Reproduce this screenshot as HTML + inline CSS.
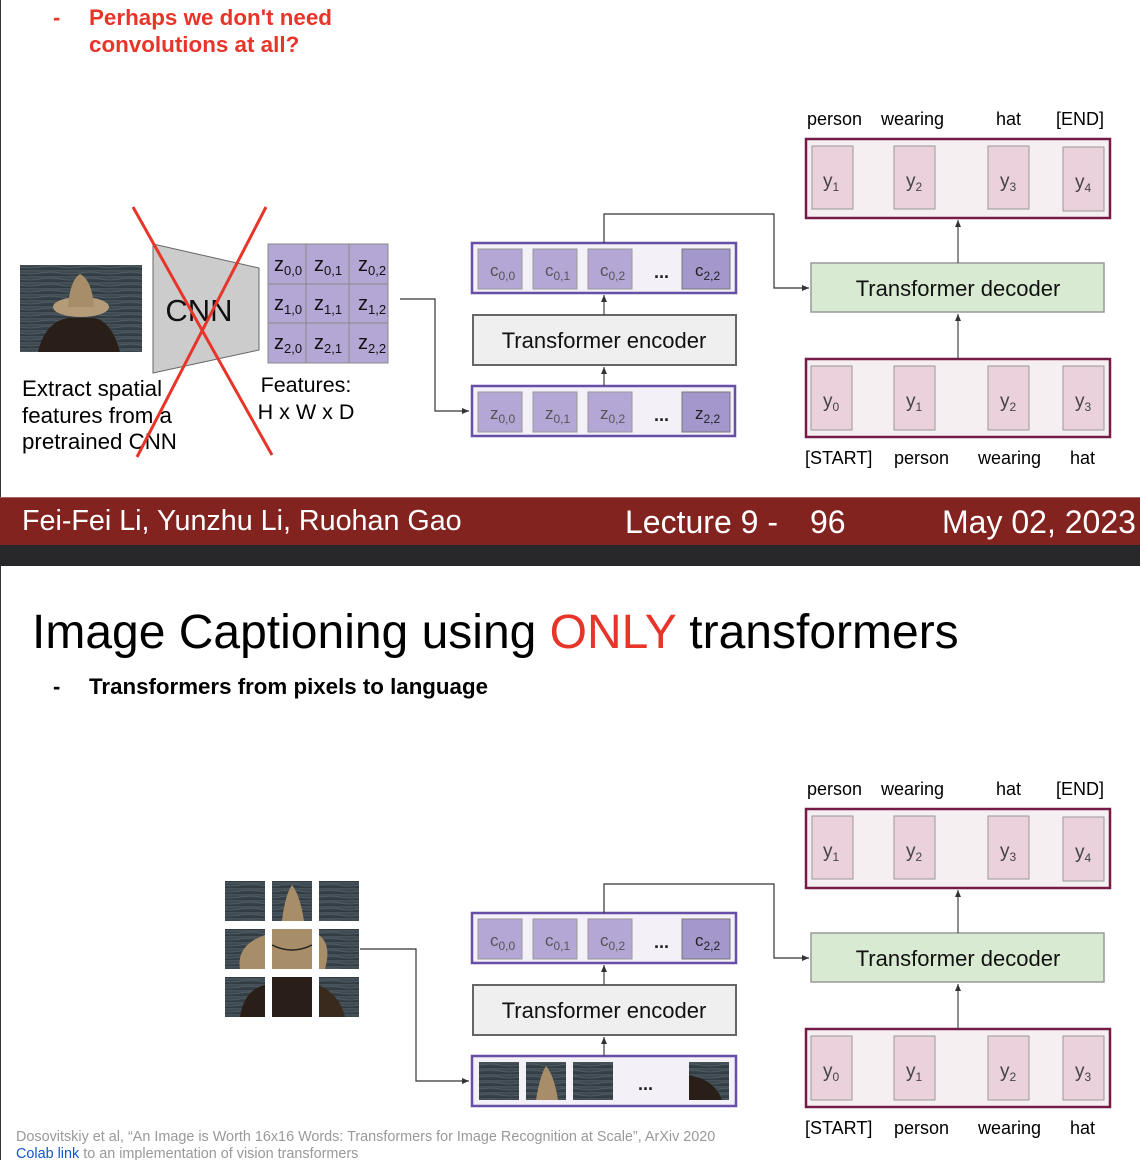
<!DOCTYPE html>
<html><head><meta charset="utf-8"><style>
html,body{margin:0;padding:0;background:#fff}
svg{display:block}
text{font-family:"Liberation Sans",sans-serif}
</style></head><body>
<svg width="1140" height="1160" viewBox="0 0 1140 1160" xmlns="http://www.w3.org/2000/svg">
<defs>
<marker id="ar" markerWidth="8" markerHeight="8" refX="7" refY="4" orient="auto" markerUnits="userSpaceOnUse"><path d="M0,1 L7,4 L0,7 z" fill="#333"/></marker>
<linearGradient id="water" x1="0" y1="0" x2="0" y2="1"><stop offset="0" stop-color="#4a555c"/><stop offset="0.5" stop-color="#39444b"/><stop offset="1" stop-color="#2f3940"/></linearGradient>
<pattern id="waves" width="40" height="6" patternUnits="userSpaceOnUse"><rect width="40" height="6" fill="url(#water)"/><path d="M0,3 Q10,1 20,3 T40,3" stroke="#56626a" stroke-width="0.8" fill="none"/></pattern>
<g id="right">
  <text x="807" y="125" font-size="18">person</text>
  <text x="881" y="125" font-size="18">wearing</text>
  <text x="996" y="125" font-size="18">hat</text>
  <text x="1056" y="125" font-size="18">[END]</text>
  <rect x="806" y="139" width="304" height="79" fill="#f6eff2" stroke="#741b47" stroke-width="2.5"/>
  <rect x="812" y="146" width="41" height="63" fill="#ead1dc" stroke="#999"/>
  <rect x="894" y="146" width="41" height="63" fill="#ead1dc" stroke="#999"/>
  <rect x="988" y="146" width="41" height="63" fill="#ead1dc" stroke="#999"/>
  <rect x="1063" y="147" width="41" height="64" fill="#ead1dc" stroke="#999"/>
  <text x="823" y="187" font-size="19" fill="#444">y<tspan font-size="12" dy="4">1</tspan></text>
  <text x="906" y="187" font-size="19" fill="#444">y<tspan font-size="12" dy="4">2</tspan></text>
  <text x="1000" y="187" font-size="19" fill="#444">y<tspan font-size="12" dy="4">3</tspan></text>
  <text x="1075" y="188" font-size="19" fill="#444">y<tspan font-size="12" dy="4">4</tspan></text>
  <rect x="811" y="263" width="293" height="49" fill="#d9ead3" stroke="#999" stroke-width="1.5"/>
  <text x="958" y="296" font-size="22" text-anchor="middle" fill="#111">Transformer decoder</text>
  <rect x="806" y="359" width="304" height="78" fill="#f6eff2" stroke="#741b47" stroke-width="2.5"/>
  <rect x="811" y="366" width="41" height="64" fill="#ead1dc" stroke="#999"/>
  <rect x="894" y="366" width="41" height="64" fill="#ead1dc" stroke="#999"/>
  <rect x="988" y="366" width="41" height="64" fill="#ead1dc" stroke="#999"/>
  <rect x="1063" y="366" width="41" height="64" fill="#ead1dc" stroke="#999"/>
  <text x="823" y="407" font-size="19" fill="#444">y<tspan font-size="12" dy="4">0</tspan></text>
  <text x="906" y="407" font-size="19" fill="#444">y<tspan font-size="12" dy="4">1</tspan></text>
  <text x="1000" y="407" font-size="19" fill="#444">y<tspan font-size="12" dy="4">2</tspan></text>
  <text x="1075" y="407" font-size="19" fill="#444">y<tspan font-size="12" dy="4">3</tspan></text>
  <text x="805" y="464" font-size="18">[START]</text>
  <text x="894" y="464" font-size="18">person</text>
  <text x="978" y="464" font-size="18">wearing</text>
  <text x="1070" y="464" font-size="18">hat</text>
  <line x1="958" y1="359" x2="958" y2="314" stroke="#444" stroke-width="1.2" marker-end="url(#ar)"/>
  <line x1="958" y1="263" x2="958" y2="220" stroke="#444" stroke-width="1.2" marker-end="url(#ar)"/>
  <rect x="472" y="243" width="264" height="50" fill="#f3f0f7" stroke="#674ea7" stroke-width="2.5"/>
  <rect x="478" y="249" width="44" height="40" fill="#b4a7d6" stroke="#999"/>
  <rect x="533" y="249" width="44" height="40" fill="#b4a7d6" stroke="#999"/>
  <rect x="588" y="249" width="44" height="40" fill="#b4a7d6" stroke="#999"/>
  <rect x="682" y="249" width="48" height="40" fill="#a397cc" stroke="#777"/>
  <text x="490" y="276" font-size="17" fill="#555">c<tspan font-size="12" dy="4">0,0</tspan></text>
  <text x="545" y="276" font-size="17" fill="#555">c<tspan font-size="12" dy="4">0,1</tspan></text>
  <text x="600" y="276" font-size="17" fill="#555">c<tspan font-size="12" dy="4">0,2</tspan></text>
  <text x="654" y="278" font-size="18" font-weight="bold" fill="#222">...</text>
  <text x="695" y="276" font-size="17" fill="#222">c<tspan font-size="12" dy="4">2,2</tspan></text>
  <rect x="473" y="315" width="263" height="50" fill="#efefef" stroke="#666" stroke-width="2"/>
  <text x="604" y="348" font-size="22" text-anchor="middle" fill="#111">Transformer encoder</text>
  <line x1="604" y1="386" x2="604" y2="367" stroke="#444" stroke-width="1.2" marker-end="url(#ar)"/>
  <line x1="604" y1="315" x2="604" y2="295" stroke="#444" stroke-width="1.2" marker-end="url(#ar)"/>
  <polyline points="604,243 604,214 774,214 774,288 809,288" fill="none" stroke="#333" stroke-width="1.2" marker-end="url(#ar)"/>
</g>
</defs>

<line x1="0.5" y1="0" x2="0.5" y2="497" stroke="#333"/>
<text x="53" y="25" font-size="22" font-weight="bold" fill="#e8352a">-</text>
<text x="89" y="25" font-size="22.4" font-weight="bold" fill="#e8352a">Perhaps we don't need</text>
<text x="89" y="52" font-size="22.4" font-weight="bold" fill="#e8352a">convolutions at all?</text>

<rect x="20" y="265" width="122" height="87" fill="url(#waves)"/>
<path d="M38,352 Q45,322 68,318 L95,318 Q112,322 120,352 z" fill="#2a1f18"/>
<ellipse cx="81" cy="307" rx="28" ry="10" fill="#b59c78"/>
<path d="M68,307 Q70,280 80,274 Q92,280 94,307 z" fill="#a88e68"/>

<polygon points="153,244 259,268 259,350 153,373" fill="#ccc" stroke="#666"/>
<text x="199" y="321" font-size="31" text-anchor="middle" fill="#111">CNN</text>

<g fill="#b4a7d6" stroke="#888" stroke-width="1">
<rect x="268" y="244" width="38" height="40"/><rect x="306" y="244" width="43" height="40"/><rect x="349" y="244" width="39" height="40"/>
<rect x="268" y="284" width="38" height="39"/><rect x="306" y="284" width="43" height="39"/><rect x="349" y="284" width="39" height="39"/>
<rect x="268" y="323" width="38" height="40"/><rect x="306" y="323" width="43" height="40"/><rect x="349" y="323" width="39" height="40"/>
</g>
<g font-size="20" fill="#111">
<text x="274" y="271">z<tspan font-size="13" dy="4">0,0</tspan></text><text x="314" y="271">z<tspan font-size="13" dy="4">0,1</tspan></text><text x="358" y="271">z<tspan font-size="13" dy="4">0,2</tspan></text>
<text x="274" y="310">z<tspan font-size="13" dy="4">1,0</tspan></text><text x="314" y="310">z<tspan font-size="13" dy="4">1,1</tspan></text><text x="358" y="310">z<tspan font-size="13" dy="4">1,2</tspan></text>
<text x="274" y="349">z<tspan font-size="13" dy="4">2,0</tspan></text><text x="314" y="349">z<tspan font-size="13" dy="4">2,1</tspan></text><text x="358" y="349">z<tspan font-size="13" dy="4">2,2</tspan></text>
</g>
<text x="22" y="396" font-size="22.3">Extract spatial</text>
<text x="22" y="423" font-size="22.3">features from a</text>
<text x="22" y="449" font-size="22.3">pretrained CNN</text>
<text x="306" y="392" font-size="21.5" text-anchor="middle">Features:</text>
<text x="306" y="419" font-size="21.5" text-anchor="middle">H x W x D</text>
<line x1="133" y1="207" x2="272" y2="455" stroke="#e8352a" stroke-width="3"/>
<line x1="266" y1="207" x2="137" y2="457" stroke="#e8352a" stroke-width="3"/>
<polyline points="400,299 435,299 435,411 469,411" fill="none" stroke="#333" stroke-width="1.2" marker-end="url(#ar)"/>

<rect x="472" y="386" width="263" height="50" fill="#f3f0f7" stroke="#674ea7" stroke-width="2.5"/>
<rect x="478" y="392" width="44" height="40" fill="#b4a7d6" stroke="#999"/>
<rect x="533" y="392" width="44" height="40" fill="#b4a7d6" stroke="#999"/>
<rect x="588" y="392" width="44" height="40" fill="#b4a7d6" stroke="#999"/>
<rect x="682" y="392" width="48" height="40" fill="#a397cc" stroke="#777"/>
<text x="490" y="419" font-size="17" fill="#555">z<tspan font-size="12" dy="4">0,0</tspan></text>
<text x="545" y="419" font-size="17" fill="#555">z<tspan font-size="12" dy="4">0,1</tspan></text>
<text x="600" y="419" font-size="17" fill="#555">z<tspan font-size="12" dy="4">0,2</tspan></text>
<text x="654" y="421" font-size="18" font-weight="bold" fill="#222">...</text>
<text x="695" y="419" font-size="17" fill="#222">z<tspan font-size="12" dy="4">2,2</tspan></text>

<use href="#right"/>

<rect x="0" y="497" width="1140" height="48" fill="#83231f"/>
<line x1="0" y1="497.5" x2="1140" y2="497.5" stroke="#a66"/>
<rect x="0" y="545" width="1140" height="21" fill="#28282b"/>
<text x="22" y="530" font-size="28.7" fill="#fff">Fei-Fei Li, Yunzhu Li, Ruohan Gao</text>
<text x="625" y="533" font-size="32" fill="#fff">Lecture 9 -</text>
<text x="810" y="533" font-size="32" fill="#fff">96</text>
<text x="942" y="533" font-size="32" fill="#fff">May 02, 2023</text>

<line x1="0.5" y1="566" x2="0.5" y2="1160" stroke="#333"/>
<text x="32" y="648" font-size="48" fill="#000">Image Captioning using <tspan fill="#e8352a">ONLY</tspan> transformers</text>
<text x="53" y="694" font-size="22" font-weight="bold">-</text>
<text x="89" y="694" font-size="22.3" font-weight="bold">Transformers from pixels to language</text>

<g>
<rect x="225" y="881" width="40" height="40" fill="url(#waves)"/>
<rect x="272" y="881" width="40" height="40" fill="url(#waves)"/>
<path d="M282,921 Q285,895 292,885 Q300,895 304,921 z" fill="#a88e68"/>
<rect x="319" y="881" width="40" height="40" fill="url(#waves)"/>
<rect x="225" y="929" width="40" height="40" fill="url(#waves)"/>
<path d="M240,969 Q236,945 265,935 L265,969 z" fill="#a88e68"/>
<rect x="272" y="929" width="40" height="40" fill="#a88e68"/>
<path d="M272,945 Q292,955 312,945" stroke="#222" stroke-width="1.5" fill="none"/>
<rect x="319" y="929" width="40" height="40" fill="url(#waves)"/>
<path d="M319,935 Q332,945 325,969 L319,969 z" fill="#a88e68"/>
<rect x="225" y="977" width="40" height="40" fill="url(#waves)"/>
<path d="M240,1017 Q244,990 265,985 L265,1017 z" fill="#2a1f18"/>
<rect x="272" y="977" width="40" height="40" fill="#2a1f18"/>
<rect x="319" y="977" width="40" height="40" fill="url(#waves)"/>
<path d="M319,985 Q340,995 345,1017 L319,1017 z" fill="#3a2a1e"/>
</g>
<polyline points="360,949 416,949 416,1081 469,1081" fill="none" stroke="#333" stroke-width="1.2" marker-end="url(#ar)"/>

<rect x="472" y="1056" width="264" height="50" fill="#f3f0f7" stroke="#674ea7" stroke-width="2.5"/>
<rect x="479" y="1062" width="40" height="38" fill="url(#waves)"/>
<rect x="526" y="1062" width="40" height="38" fill="url(#waves)"/>
<path d="M536,1100 Q540,1075 546,1066 Q554,1075 558,1100 z" fill="#a88e68"/>
<rect x="573" y="1062" width="40" height="38" fill="url(#waves)"/>
<text x="638" y="1090" font-size="18" font-weight="bold" fill="#222">...</text>
<rect x="689" y="1062" width="40" height="38" fill="url(#waves)"/>
<path d="M689,1075 Q715,1080 722,1100 L689,1100 z" fill="#2a1f18"/>

<use href="#right" transform="translate(0,670)"/>

<text x="16" y="1141" font-size="14.4" fill="#999">Dosovitskiy et al, “An Image is Worth 16x16 Words: Transformers for Image Recognition at Scale”, ArXiv 2020</text>
<text x="16" y="1158" font-size="14.4" fill="#999"><tspan fill="#1155cc">Colab link</tspan> to an implementation of vision transformers</text>
</svg>
</body></html>
